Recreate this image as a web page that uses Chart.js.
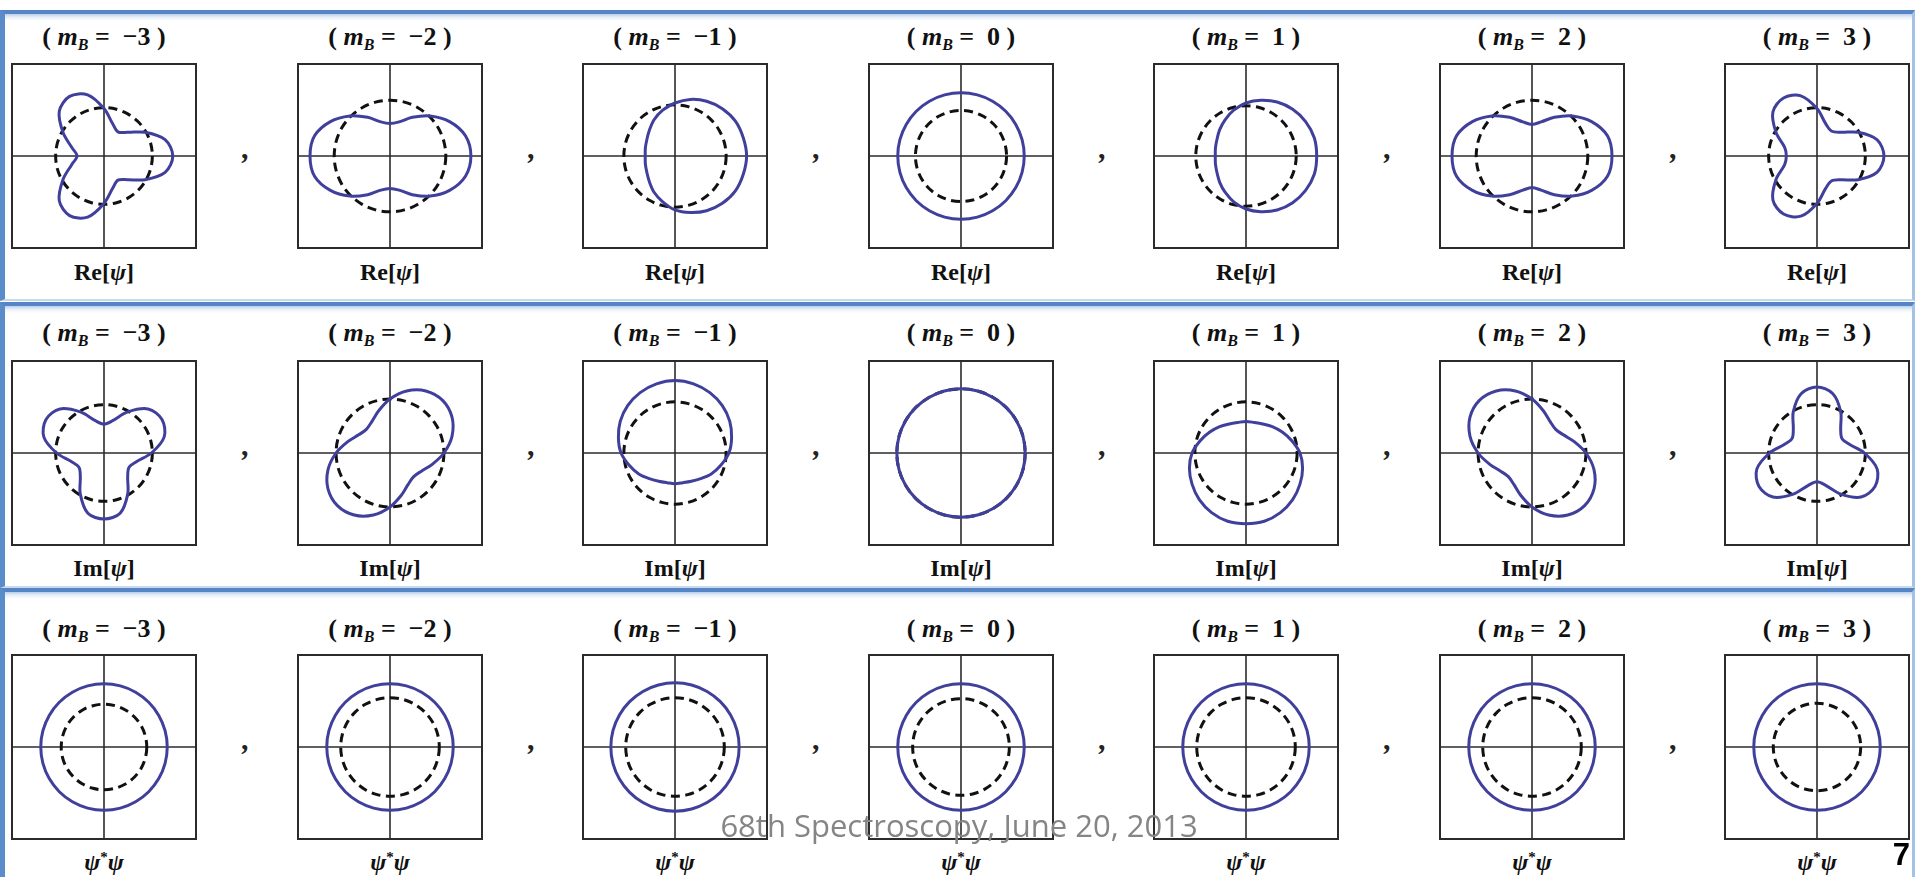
<!DOCTYPE html>
<html>
<head>
<meta charset="utf-8">
<script src="https://cdn.jsdelivr.net/npm/chart.js@4.4.1/dist/chart.umd.min.js"></script>
<style>
  html, body { margin: 0; padding: 0; background: #fff; }
  #page { position: relative; width: 1915px; height: 877px; overflow: hidden; background: #fff; }
  .row {
    position: absolute; left: 0; width: 1915px; box-sizing: border-box;
    border-top: 4px solid #5585c5; border-left: 5px solid #5a8cc9;
    border-right: 3px solid #a3c2e6; border-bottom: 2px solid #c5d9ef;
    background: linear-gradient(#b9cee9 0, #e6eef8 3px, #fff 7px);
  }
  .box { position: absolute; width: 186px; height: 186px; box-sizing: border-box; border: 2px solid #2b2b2b; }
  .plot { position: absolute; width: 186px; height: 186px; }
  .title, .label {
    position: absolute; width: 220px; height: 30px; line-height: 30px; text-align: center;
    font-family: "Liberation Serif", "Times New Roman", serif; font-weight: bold; color: #111; white-space: pre;
  }
  .title { font-size: 26px; }
  .title sub { font-size: 16px; vertical-align: -5px; line-height: 0; }
  .label { font-size: 24px; }
  .label sup { font-size: 15px; vertical-align: 8px; line-height: 0; }
  .comma {
    position: absolute; width: 20px; height: 30px; line-height: 30px; text-align: center;
    font: italic bold 30px "Liberation Serif", serif; color: #222;
  }
  #footer {
    position: absolute; left: 959px; top: 804px; height: 40px; line-height: 40px; transform: translateX(-50%);
    font: 31px "Open Sans", sans-serif; color: #858585; white-space: nowrap; z-index: 5;
  }
  #pageno {
    position: absolute; right: 5px; top: 837px; height: 31px; line-height: 31px;
    font: bold 31px "Liberation Sans", Arial, sans-serif; color: #000; z-index: 5;
  }
</style>
</head>
<body>
<div id="page">
  <div class="row" style="top:10px;height:291px"></div>
  <div class="row" style="top:302px;height:286px"></div>
  <div class="row" style="top:588px;height:300px"></div>
  <div id="footer">68th Spectroscopy, June 20, 2013</div>
  <div id="pageno">7</div>
</div>
<script>
// sample directions, counter-clockwise from the +x axis
const angleLabels = ['0°', '15°', '30°', '45°', '60°', '75°', '90°', '105°', '120°', '135°', '150°', '165°',
                     '180°', '195°', '210°', '225°', '240°', '255°', '270°', '285°', '300°', '315°', '330°', '345°'];
const mValues = [-3, -2, -1, 0, 1, 2, 3];
const rowLabels = ['Re[<i>ψ</i>]', 'Im[<i>ψ</i>]', '<i>ψ</i><sup>*</sup><i>ψ</i>'];

// Re[psi] radius per direction
const reM3 = [0.74, 0.68, 0.51, 0.36, 0.30, 0.36, 0.51, 0.68, 0.74, 0.68, 0.51, 0.36, 0.29, 0.36, 0.51, 0.68, 0.74, 0.68, 0.51, 0.36, 0.30, 0.36, 0.51, 0.68];
const reM2 = [0.87, 0.84, 0.74, 0.61, 0.48, 0.38, 0.35, 0.38, 0.48, 0.61, 0.74, 0.84, 0.86, 0.84, 0.74, 0.61, 0.48, 0.38, 0.35, 0.38, 0.48, 0.61, 0.74, 0.84];
const reM1 = [0.77, 0.76, 0.75, 0.72, 0.68, 0.63, 0.57, 0.51, 0.45, 0.39, 0.35, 0.33, 0.32, 0.33, 0.35, 0.39, 0.45, 0.51, 0.58, 0.63, 0.68, 0.72, 0.75, 0.76];
const reP1 = [0.76, 0.76, 0.74, 0.71, 0.67, 0.62, 0.57, 0.51, 0.45, 0.40, 0.36, 0.34, 0.33, 0.34, 0.36, 0.40, 0.45, 0.51, 0.57, 0.62, 0.67, 0.71, 0.74, 0.76];
const reP2 = [0.86, 0.84, 0.74, 0.61, 0.48, 0.38, 0.34, 0.38, 0.48, 0.61, 0.74, 0.84, 0.86, 0.84, 0.74, 0.61, 0.48, 0.38, 0.34, 0.38, 0.48, 0.61, 0.74, 0.84];
const reP3 = [0.72, 0.67, 0.51, 0.36, 0.31, 0.36, 0.51, 0.67, 0.72, 0.67, 0.51, 0.36, 0.33, 0.36, 0.51, 0.67, 0.72, 0.67, 0.51, 0.36, 0.31, 0.36, 0.51, 0.67];

// Im[psi] radius per direction
const imM3 = [0.51, 0.67, 0.72, 0.67, 0.51, 0.36, 0.31, 0.36, 0.51, 0.67, 0.72, 0.67, 0.51, 0.36, 0.31, 0.36, 0.51, 0.67, 0.71, 0.67, 0.51, 0.36, 0.31, 0.36];
const imM2 = [0.58, 0.69, 0.77, 0.80, 0.77, 0.69, 0.58, 0.47, 0.39, 0.36, 0.39, 0.47, 0.58, 0.69, 0.77, 0.80, 0.77, 0.69, 0.58, 0.47, 0.39, 0.36, 0.39, 0.47];
const imM1 = [0.58, 0.63, 0.68, 0.72, 0.75, 0.77, 0.78, 0.77, 0.75, 0.72, 0.68, 0.63, 0.58, 0.51, 0.45, 0.39, 0.35, 0.33, 0.33, 0.33, 0.35, 0.39, 0.45, 0.51];
const imP1 = [0.58, 0.51, 0.45, 0.40, 0.36, 0.34, 0.34, 0.34, 0.36, 0.40, 0.45, 0.51, 0.58, 0.63, 0.67, 0.71, 0.74, 0.76, 0.76, 0.76, 0.74, 0.71, 0.67, 0.63];
const imP2 = [0.58, 0.47, 0.39, 0.36, 0.39, 0.47, 0.58, 0.69, 0.77, 0.80, 0.77, 0.69, 0.58, 0.47, 0.39, 0.36, 0.39, 0.47, 0.58, 0.69, 0.77, 0.80, 0.77, 0.69];
const imP3 = [0.51, 0.36, 0.31, 0.36, 0.51, 0.66, 0.71, 0.66, 0.51, 0.36, 0.31, 0.36, 0.51, 0.67, 0.72, 0.67, 0.51, 0.36, 0.31, 0.36, 0.51, 0.67, 0.72, 0.67];

// round curves: one radius each
const reZeroRadius = 0.68;
const imZeroRadius = 0.69;
const psiSqRadius = [0.68, 0.68, 0.69, 0.68, 0.68, 0.68, 0.68];

// dashed reference circles
const dashedRe = [0.52, 0.60, 0.55, 0.49, 0.54, 0.60, 0.52];
const dashedIm = [0.52, 0.58, 0.55, 0.69, 0.55, 0.58, 0.52];
const dashedPsi = [0.46, 0.53, 0.53, 0.52, 0.53, 0.53, 0.47];

const ring = r => angleLabels.map(() => r);

const solidRows = [
  [reM3, reM2, reM1, ring(reZeroRadius), reP1, reP2, reP3],
  [imM3, imM2, imM1, ring(imZeroRadius), imP1, imP2, imP3],
  psiSqRadius.map(ring)
];
const dashedRows = [dashedRe, dashedIm, dashedPsi];

// radar walks clockwise from 3 o'clock, the lists above go counter-clockwise
const clockwise = arr => arr.map((v, i) => arr[(arr.length - i) % arr.length]);

const boxTops = [63, 360, 654];
const titleOffset = [-41, -42, -40];
const labelOffset = [194, 193, 193];
const page = document.getElementById('page');

function addDiv(cls, left, top, html) {
  const d = document.createElement('div');
  d.className = cls;
  d.style.left = left + 'px';
  d.style.top = top + 'px';
  d.innerHTML = html;
  page.appendChild(d);
  return d;
}

function mLabel(m) {
  const v = m < 0 ? '\u2212' + Math.abs(m) : String(m);
  return '( <i>m</i><sub><i>B</i></sub> =  ' + v + ' )';
}

for (let row = 0; row < 3; row++) {
  for (let col = 0; col < 7; col++) {
    const left = Math.round(11 + 285.5 * col);
    const top = boxTops[row];
    const cx = left + 93;

    addDiv('title', cx - 110, top + titleOffset[row], mLabel(mValues[col]));
    addDiv('label', cx - 110, top + labelOffset[row], rowLabels[row]);
    if (col < 6) addDiv('comma', left + 225, top + 68, ',');

    addDiv('box', left, top, '');
    const holder = addDiv('plot', left, top, '');
    const canvas = document.createElement('canvas');
    canvas.width = 186;
    canvas.height = 186;
    holder.appendChild(canvas);

    new Chart(canvas, {
      type: 'radar',
      data: {
        labels: clockwise(angleLabels),
        datasets: [
          {
            data: clockwise(solidRows[row][col]),
            borderColor: '#40409c',
            borderWidth: 3,
            fill: false,
            tension: 0.33,
            pointRadius: 0,
            pointHoverRadius: 0
          },
          {
            data: clockwise(ring(dashedRows[row][col])),
            borderColor: '#111111',
            borderWidth: 3,
            borderDash: [9, 5.5],
            fill: false,
            tension: 0.33,
            pointRadius: 0,
            pointHoverRadius: 0
          }
        ]
      },
      options: {
        responsive: false,
        animation: false,
        events: [],
        plugins: { legend: { display: false }, tooltip: { enabled: false } },
        scales: {
          r: {
            min: 0,
            max: 1,
            startAngle: 90,
            ticks: { display: false },
            pointLabels: { display: false },
            grid: { display: false },
            angleLines: {
              display: true,
              color: '#2b2b2b',
              lineWidth: ctx => (ctx.index % 6 === 0 ? 1.6 : 0)
            }
          }
        }
      }
    });
  }
}
</script>
</body>
</html>
